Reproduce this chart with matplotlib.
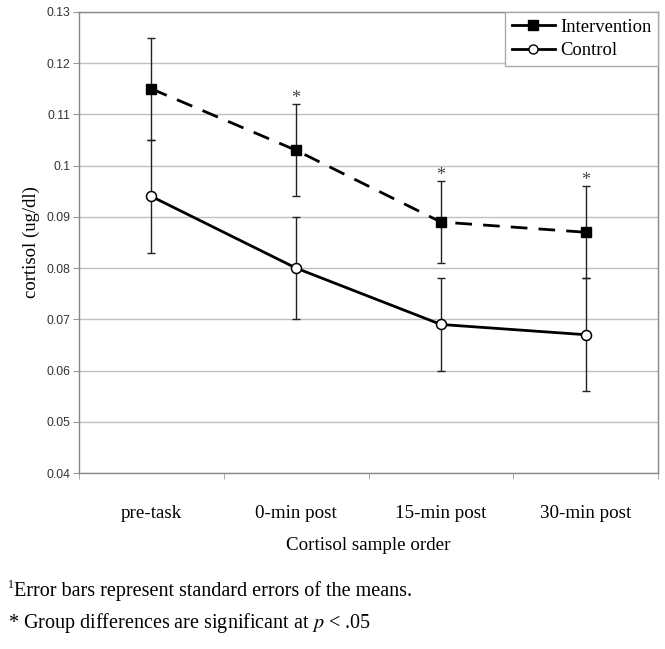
import numpy as np
import matplotlib
matplotlib.use("Agg")
import matplotlib.pyplot as plt
from matplotlib.lines import Line2D

# data
categories = ["pre-task", "0-min post", "15-min post", "30-min post"]
intervention = [0.115, 0.103, 0.089, 0.087]
intervention_se = [0.010, 0.009, 0.008, 0.009]
control = [0.094, 0.080, 0.069, 0.067]
control_se = [0.011, 0.010, 0.009, 0.011]
significant = [False, True, True, True]

serif = "Liberation Serif"
sans = "Liberation Sans"

fig = plt.figure(figsize=(6.65, 6.49), dpi=100)
ax = fig.add_axes([79 / 665, 176 / 649, 579 / 665, 461 / 649])

x = np.arange(len(categories))

# error bars first (thin), then the lines with markers on top
ax.errorbar(x, intervention, yerr=intervention_se, fmt="none", ecolor="#222222",
            elinewidth=1.0, capsize=2.6, capthick=1.0, zorder=3)
ax.errorbar(x, control, yerr=control_se, fmt="none", ecolor="#222222",
            elinewidth=1.0, capsize=2.6, capthick=1.0, zorder=3)

ax.plot(x, intervention, color="black", lw=2, ls=(0, (6, 4)), marker="s",
        ms=7.5, mfc="black", mec="black", zorder=4)
ax.plot(x, control, color="black", lw=2, ls="-", marker="o",
        ms=7.2, mfc="white", mec="black", mew=1.1, zorder=4)

# significance stars above intervention error bars
for i, sig in enumerate(significant):
    if sig:
        ax.annotate("*", (x[i], intervention[i] + intervention_se[i]),
                    xytext=(0, -2), textcoords="offset points",
                    ha="center", va="bottom", fontsize=13, family=serif,
                    color="#444444")

ax.set_xlim(-0.5, len(categories) - 0.5)
ax.set_ylim(0.04, 0.13)
ax.set_yticks(np.arange(0.04, 0.1301, 0.01))
ax.set_yticklabels(["0.04", "0.05", "0.06", "0.07", "0.08", "0.09", "0.1",
                    "0.11", "0.12", "0.13"], family=sans, fontsize=8.8,
                   color="#333333")
ax.yaxis.grid(True, color="#c0c0c0", lw=1)
ax.set_axisbelow(True)

ax.set_xticks(x)
ax.set_xticklabels(categories, family=serif, fontsize=13.7)
ax.set_xticks(np.arange(-0.5, len(categories) + 0.5, 1), minor=True)
ax.tick_params(axis="x", which="major", length=0, pad=23)
ax.tick_params(axis="x", which="minor", length=4, color="#999999")
ax.tick_params(axis="y", length=4, color="#999999", pad=2)

for s in ax.spines.values():
    s.set_color("#888888")
    s.set_linewidth(1)

ax.set_xlabel("Cortisol sample order", family=serif, fontsize=13.7, labelpad=11)
ax.set_ylabel("cortisol (ug/dl)", family=serif, fontsize=13.5, labelpad=5)

handles = [
    Line2D([], [], color="black", lw=2, marker="s", ms=6.5, mfc="black"),
    Line2D([], [], color="black", lw=2, marker="o", ms=6.5, mfc="white", mec="black"),
]
leg = ax.legend(handles, ["Intervention", "Control"], loc="upper right",
                bbox_to_anchor=(1.0, 1.0), borderaxespad=0, fancybox=False,
                framealpha=1, edgecolor="#aaaaaa", handlelength=2.3,
                handletextpad=0.3, borderpad=0.35, labelspacing=0.35,
                prop={"family": serif, "size": 13.4})
leg.get_frame().set_linewidth(1)

fig.text(8 / 665, 1 - 585 / 649, "1", family=serif, fontsize=8.5, va="center")
fig.text(14 / 665, 1 - 591 / 649, "Error bars represent standard errors of the means.",
         family=serif, fontsize=14.5, va="center")
fig.text(8 / 665, 1 - 623 / 649, "* Group differences are significant at $p$ < .05",
         family=serif, fontsize=14.5, va="center", math_fontfamily="stix")

fig.savefig("out.png", dpi=100)
